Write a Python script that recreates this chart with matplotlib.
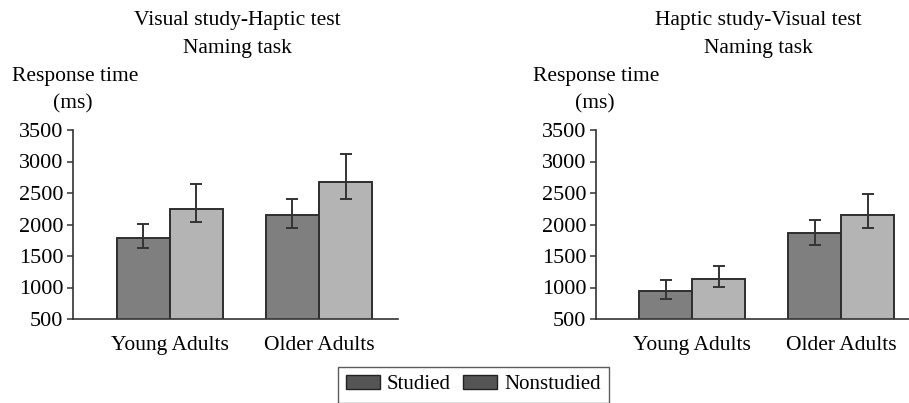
import numpy as np
import matplotlib.pyplot as plt
from matplotlib.patches import Patch

plt.rcParams['font.family'] = ['Liberation Serif', 'DejaVu Serif']
plt.rcParams['font.size'] = 15.5

groups = ['Young Adults', 'Older Adults']
series = ['Studied', 'Nonstudied']

# visual study - haptic test (means, lower / upper error)
vh_studied = [1786, 2151]
vh_studied_lo = [164, 206]
vh_studied_hi = [227, 254]
vh_nonstudied = [2251, 2669]
vh_nonstudied_lo = [217, 270]
vh_nonstudied_hi = [397, 455]

# haptic study - visual test
hv_studied = [939, 1860]
hv_studied_lo = [122, 180]
hv_studied_hi = [180, 212]
hv_nonstudied = [1140, 2151]
hv_nonstudied_lo = [138, 206]
hv_nonstudied_hi = [206, 328]

titles = [('Visual study-Haptic test', 'Naming task'), ('Haptic study-Visual test', 'Naming task')]

dark = '#7f7f7f'
light = '#b4b4b4'
edge = '#2e2e2e'
legend_col = '#555555'

W, H = 909, 403
fig = plt.figure(figsize=(W / 100, H / 100), dpi=100)

def px_axes(x0, x1, y0, y1):
    return fig.add_axes([x0 / W, 1 - y1 / H, (x1 - x0) / W, (y1 - y0) / H])

panels = [
    (px_axes(73, 398, 130, 319), vh_studied, [vh_studied_lo, vh_studied_hi],
     vh_nonstudied, [vh_nonstudied_lo, vh_nonstudied_hi], (-0.65, 1.53)),
    (px_axes(596, 909, 130, 319), hv_studied, [hv_studied_lo, hv_studied_hi],
     hv_nonstudied, [hv_nonstudied_lo, hv_nonstudied_hi], (-0.645, 1.455)),
]

x = np.arange(len(groups))
w = 0.356
for i, (ax, s, se, n, ne, xl) in enumerate(panels):
    ekw = dict(ecolor='#333333', elinewidth=1.4, capsize=4, capthick=1.4)
    ax.bar(x - w / 2, s, w, color=dark, edgecolor=edge, linewidth=1.4,
           yerr=se, error_kw=ekw, zorder=2)
    ax.bar(x + w / 2, n, w, color=light, edgecolor=edge, linewidth=1.4,
           yerr=ne, error_kw=ekw, zorder=2)
    ax.set_ylim(500, 3500)
    ax.set_xlim(*xl)
    ax.set_yticks(np.arange(500, 3501, 500))
    ax.set_xticks(x)
    ax.set_xticklabels(groups)
    ax.tick_params(axis='x', length=0, pad=12)
    ax.tick_params(axis='y', length=4, width=1.1, color='#333333', pad=3, labelsize=16)
    for sp in ['top', 'right']:
        ax.spines[sp].set_visible(False)
    for sp in ['left', 'bottom']:
        ax.spines[sp].set_color('#333333')
        ax.spines[sp].set_linewidth(1.2)

# titles and y labels (placed in figure pixels)
for cx, (t1, t2) in zip([237, 758], titles):
    fig.text(cx / W, 1 - 21 / H, t1, ha='center', va='center')
    fig.text(cx / W, 1 - 49 / H, t2, ha='center', va='center')
fig.text(12 / W, 1 - 77 / H, 'Response time', ha='left', va='center')
fig.text(73 / W, 1 - 104 / H, '(ms)', ha='center', va='center')
fig.text(533 / W, 1 - 77 / H, 'Response time', ha='left', va='center')
fig.text(595 / W, 1 - 104 / H, '(ms)', ha='center', va='center')

handles = [Patch(facecolor=legend_col, edgecolor='#222222', label=series[0]),
           Patch(facecolor=legend_col, edgecolor='#222222', label=series[1])]
leg = fig.legend(handles=handles, loc='upper center', bbox_to_anchor=(473.5 / W, 1 - 367 / H),
                 ncol=2, frameon=True, fancybox=False, handlelength=1.6, handleheight=0.6,
                 columnspacing=0.6, handletextpad=0.35, borderpad=0.4, borderaxespad=0,
                 fontsize=15)
leg.get_frame().set_edgecolor('#333333')
leg.get_frame().set_linewidth(1.0)

fig.savefig('out.png', dpi=100)
